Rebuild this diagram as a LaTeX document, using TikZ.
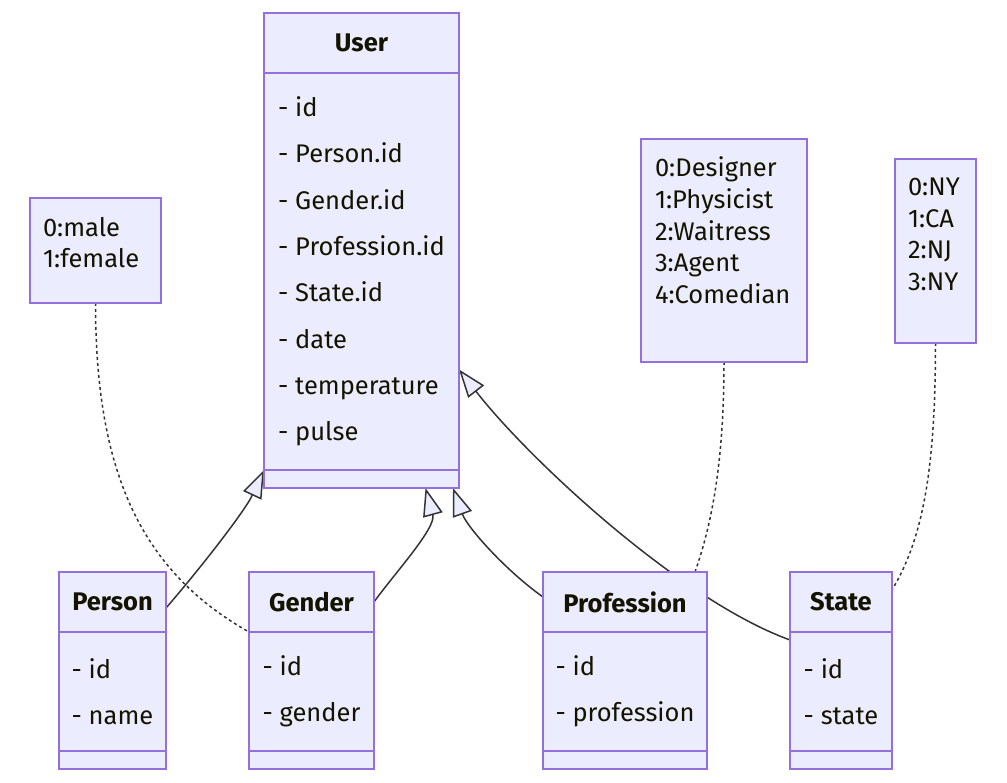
\documentclass[tikz,border=0pt]{standalone}
\usepackage{fontspec}
\setmainfont{Fira Sans}
\usetikzlibrary{arrows.meta,calc}
\definecolor{cececff}{RGB}{236,236,255}
\definecolor{c9370db}{RGB}{147,112,219}
\definecolor{c333333}{RGB}{51,51,51}
\definecolor{c131300}{RGB}{19,19,0}
\pgfdeclarelayer{background}
\pgfsetlayers{background,main}

\begin{document}
\begin{tikzpicture}[y=1pt, x=1pt, yscale=-1, inner sep=0pt, outer sep=0pt,
  box/.style={draw=c9370db, fill=cececff, line width=1.5pt, text=c131300,
    anchor=north west},
  headbox/.style={box, minimum height=60, font=\fontsize{25.5}{30}\bfseries},
  bodybox/.style={box, align=left, font=\fontsize{25.5}{46.3}\selectfont},
  footbox/.style={box, minimum height=18},
  notebox/.style={box},
  notetext/.style={anchor=north west, align=left, text=c131300,
    font=\fontsize{25.5}{31.6}\selectfont},
  extends/.style={draw=c333333, line width=1.5pt,
    -{Triangle[length=28pt, width=20pt, fill=cececff]}},
  noteline/.style={draw=c333333, line width=1.5pt,
    dash pattern=on 3pt off 3pt}]

  \useasboundingbox (0,0) rectangle (1007,783);

  % User
  \node[headbox, minimum width=195] (user-head) at (264,13) {User};
  \node[bodybox, minimum width=195, minimum height=397] (user-body) at (264,73)
    {- id\\- Person.id\\- Gender.id\\- Profession.id\\- State.id\\- date\\-
    temperature\\- pulse};
  \node[footbox, minimum width=195] (user-foot) at (264,470) {};

  % Person
  \node[headbox, minimum width=107] (person-head) at (59,572) {Person};
  \node[bodybox, minimum width=107, minimum height=119] (person-body) at (59,632)
    {- id\\- name};
  \node[footbox, minimum width=107] (person-foot) at (59,751) {};

  % Gender
  \node[headbox, minimum width=125] (gender-head) at (249,572) {Gender};
  \node[bodybox, minimum width=125, minimum height=119] (gender-body) at (249,632)
    {- id\\- gender};
  \node[footbox, minimum width=125] (gender-foot) at (249,751) {};

  % Profession
  \node[headbox, minimum width=164] (prof-head) at (543,572) {Profession};
  \node[bodybox, minimum width=164, minimum height=119] (prof-body) at (543,632)
    {- id\\- profession};
  \node[footbox, minimum width=164] (prof-foot) at (543,751) {};

  % State
  \node[headbox, minimum width=102] (state-head) at (790,572) {State};
  \node[bodybox, minimum width=102, minimum height=119] (state-body) at (790,632)
    {- id\\- state};
  \node[footbox, minimum width=102] (state-foot) at (790,751) {};

  % notes
  \node[notebox, minimum width=131, minimum height=105] (gender-note) at (30,198) {};
  \node[notetext] (gender-note-text) at (43,217) {0:male\\1:female};
  \node[notebox, minimum width=166, minimum height=223] (prof-note) at (641,139) {};
  \node[notetext] (prof-note-text) at (655,157)
    {0:Designer\\1:Physicist\\2:Waitress\\3:Agent\\4:Comedian};
  \node[notebox, minimum width=81, minimum height=184] (state-note) at (895,159) {};
  \node[notetext] (state-note-text) at (908,178) {0:NY\\1:CA\\2:NJ\\3:NY};

  \begin{pgfonlayer}{background}
    \path[extends] ($(person-head.east)+(0,6)$) .. controls +(33,-38) and
      +(-19,41) .. (user-body.south west);
    \path[extends] (gender-head.east) .. controls +(20,-28) and +(11,40) ..
      ($(user-foot.south)+(64,0)$);
    \path[extends] ($(prof-head.west)+(0,-5)$) .. controls +(-38,-27) and
      +(14,39) .. ($(user-foot.south east)+(-6,0)$);
    \path[extends] ($(state-body.north west)+(0,8)$) .. controls +(-110,-40) and
      +(70,90) .. ($(user-body.east)+(0,98)$);
    \path[noteline] (gender-note.south) .. controls +(0,166) and +(-110,-62) ..
      (gender-body.north west);
    \path[noteline] (prof-note.south) .. controls +(0,110) and +(14,-40) ..
      ($(prof-head.north)+(70,0)$);
    \path[noteline] (state-note.south) .. controls +(0,130) and +(30,-50) ..
      ($(state-head.east)+(0,-12)$);
  \end{pgfonlayer}

\end{tikzpicture}
\end{document}
